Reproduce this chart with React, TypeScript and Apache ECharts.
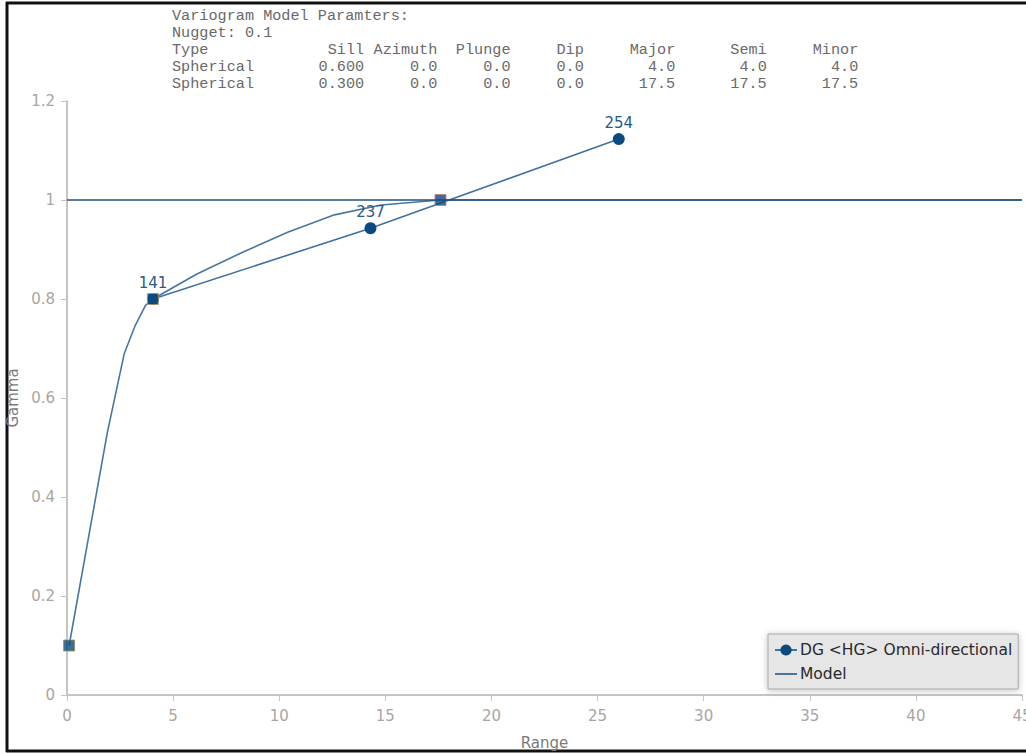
import React, { useEffect, useRef } from "react";
import * as echarts from "echarts";

// Experimental variogram (DG <HG> Omni-directional)
const expRange = [4.05, 14.3, 26.0];
const expGamma = [0.8, 0.943, 1.123];
const expPairs = [141, 237, 254];

// Model curve
const modelRange = [0.1, 1.9, 2.7, 3.2, 3.7, 4.05, 6.1, 8.2, 10.4, 12.6, 14.8, 17.6, 45];
const modelGamma = [0.1, 0.53, 0.69, 0.745, 0.787, 0.8, 0.85, 0.893, 0.935, 0.97, 0.99, 1.0, 1.0];

// Model structure points (squares)
const structRange = [0.1, 4.05, 17.6];
const structGamma = [0.1, 0.8, 1.0];

const sill = 1.0;

// Header text
const headerTitle = "Variogram Model Paramters:";
const nuggetLine = "Nugget: 0.1";
const headerCols = ["Type", "Sill", "Azimuth", "Plunge", "Dip", "Major", "Semi", "Minor"];
const structureRows = [
  ["Spherical", "0.600", "0.0", "0.0", "0.0", "4.0", "4.0", "4.0"],
  ["Spherical", "0.300", "0.0", "0.0", "0.0", "17.5", "17.5", "17.5"],
];
const colEndChars = [0, 21, 29, 37, 45, 55, 65, 75];

export default function App() {
  const ref = useRef<HTMLDivElement>(null);
  useEffect(() => {
    if (!ref.current) return;
    const chart = echarts.init(ref.current, undefined, { renderer: "svg" });

    const mono = "'Liberation Mono', 'DejaVu Sans Mono', monospace";
    const charW = 9.15;
    const x0 = 172;
    const lineY0 = 16;
    const lineH = 17;
    const txtColor = "#6a6a6a";
    const graphics: any[] = [];
    const addText = (text: string, x: number, y: number, align: string) => {
      graphics.push({
        type: "text",
        x,
        y,
        style: {
          text,
          fill: txtColor,
          font: `15.2px ${mono}`,
          textAlign: align,
          textVerticalAlign: "middle",
        },
        silent: true,
      });
    };
    addText(headerTitle, x0, lineY0, "left");
    addText(nuggetLine, x0, lineY0 + lineH, "left");
    const rows = [headerCols, ...structureRows];
    rows.forEach((row, ri) => {
      const y = lineY0 + lineH * (ri + 2);
      row.forEach((cell, ci) => {
        if (ci === 0) addText(cell, x0, y, "left");
        else addText(cell, x0 + colEndChars[ci] * charW, y, "right");
      });
    });
    // Frame (left, top, bottom)
    graphics.push(
      { type: "line", shape: { x1: 7, y1: 2, x2: 7, y2: 752 }, style: { stroke: "#111", lineWidth: 3 }, silent: true },
      { type: "line", shape: { x1: 6, y1: 3, x2: 1026, y2: 3 }, style: { stroke: "#111", lineWidth: 3 }, silent: true },
      { type: "line", shape: { x1: 6, y1: 751, x2: 1026, y2: 751 }, style: { stroke: "#111", lineWidth: 3 }, silent: true }
    );

    const axisLabelColor = "#a9a6a0";
    const font = "'DejaVu Sans', Verdana, sans-serif";
    const squareBorders = ["#9c8f5a", "#b09a6a", "#c27c86"];

    chart.setOption({
      animation: false,
      backgroundColor: "#ffffff",
      grid: { left: 67, right: 4, top: 101, bottom: 59, outerBoundsMode: "none", containLabel: false },
      legend: {
        orient: "vertical",
        left: 768,
        top: 634,
        data: [
          { name: "DG <HG> Omni-directional" },
          { name: "Model", itemStyle: { opacity: 0 } },
        ],
        backgroundColor: "#e6e6e6",
        borderColor: "#a8a8a8",
        borderWidth: 1,
        shadowBlur: 6,
        shadowColor: "rgba(0,0,0,0.25)",
        shadowOffsetY: 1,
        padding: [8, 6, 7, 6],
        itemGap: 8,
        itemWidth: 22,
        itemHeight: 14,
        textStyle: { color: "#2a2a2a", fontSize: 15.5, fontFamily: font, padding: [0, 0, 0, -2] },
      },
      xAxis: {
        type: "value",
        min: 0,
        max: 45,
        interval: 5,
        name: "Range",
        nameLocation: "middle",
        nameGap: 40,
        nameTextStyle: { color: "#7a7a7a", fontSize: 15, fontFamily: font },
        axisLine: { show: true, lineStyle: { color: "#c4c4c4", width: 2 } },
        axisTick: { show: true, length: 6, lineStyle: { color: "#c4c4c4" } },
        axisLabel: { color: axisLabelColor, fontSize: 15, fontFamily: font, margin: 13 },
        splitLine: { show: false },
      },
      yAxis: {
        type: "value",
        min: 0,
        max: 1.2,
        interval: 0.2,
        name: "Gamma",
        nameLocation: "middle",
        nameGap: 44,
        nameTextStyle: { color: "#7a7a7a", fontSize: 15, fontFamily: font },
        axisLine: { show: true, lineStyle: { color: "#c4c4c4", width: 2 } },
        axisTick: { show: true, length: 6, lineStyle: { color: "#c4c4c4" } },
        axisLabel: { color: axisLabelColor, fontSize: 15, fontFamily: font, margin: 12 },
        splitLine: { show: false },
      },
      series: [
        {
          name: "Model",
          type: "line",
          data: modelRange.map((h, i) => [h, modelGamma[i]]),
          symbol: "none",
          smooth: false,
          lineStyle: { color: "#4677a3", width: 1.6 },
          itemStyle: { color: "#4677a3" },
          z: 2,
          markLine: {
            silent: true,
            symbol: "none",
            label: { show: false },
            lineStyle: { color: "#1f4f7d", width: 1.5, type: "solid" },
            data: [{ yAxis: sill }],
          },
        },
        {
          name: "DG <HG> Omni-directional",
          type: "line",
          data: expRange.map((h, i) => [h, expGamma[i]]),
          symbol: "circle",
          symbolSize: 12,
          showAllSymbol: true,
          lineStyle: { color: "#3f72a0", width: 1.6 },
          itemStyle: { color: "#0b4a7f" },
          label: {
            show: true,
            position: "top",
            distance: 3,
            color: "#2c5a86",
            fontSize: 15,
            fontFamily: font,
            formatter: (p: any) => String(expPairs[p.dataIndex]),
          },
          z: 3,
        },
        {
          name: "Structures",
          type: "scatter",
          data: structRange.map((h, i) => ({
            value: [h, structGamma[i]],
            itemStyle: { borderColor: squareBorders[i] },
          })),
          symbol: "rect",
          symbolSize: 11,
          itemStyle: { color: "#0b4a7f", borderWidth: 1 },
          z: 4,
        },
      ],
      graphic: graphics,
    });
    return () => chart.dispose();
  }, []);

  return (
    <div
      ref={ref}
      style={{ position: "fixed", left: 0, top: 0, width: 1026, height: 754 }}
    />
  );
}
